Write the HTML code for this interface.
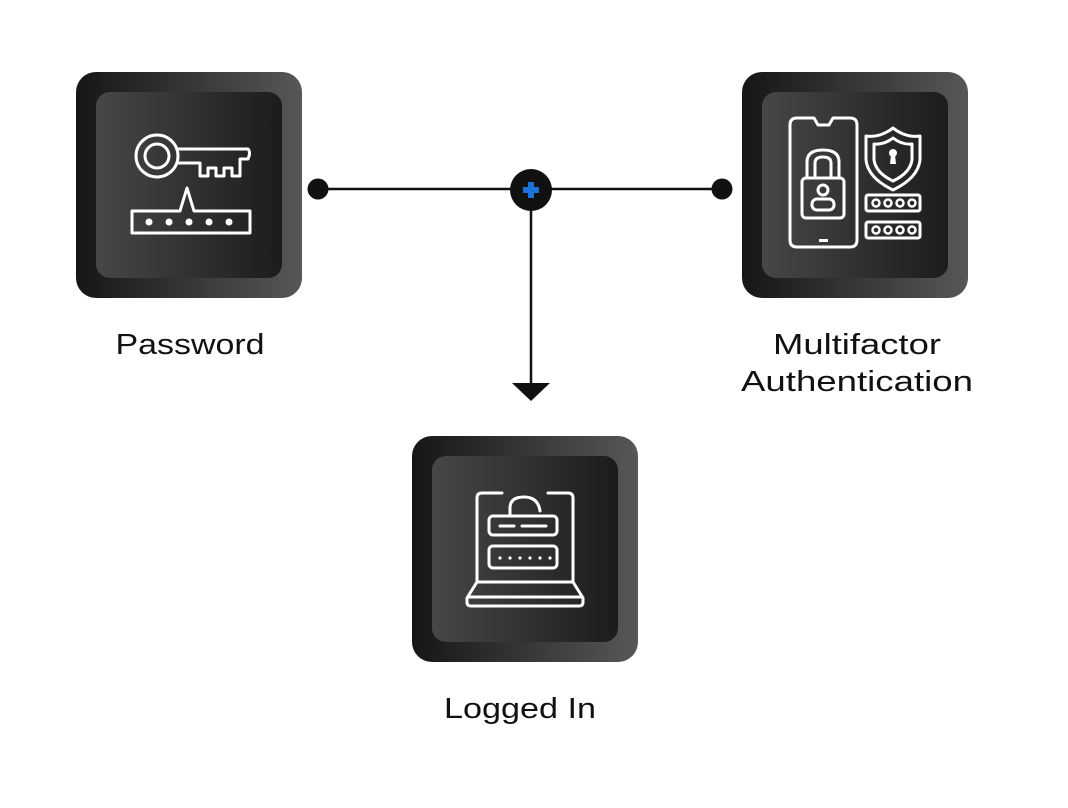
<!DOCTYPE html>
<html><head><style>html,body{margin:0;padding:0;background:#fff;}svg{display:block}</style></head>
<body>
<svg width="1068" height="808" viewBox="0 0 1068 808" xmlns="http://www.w3.org/2000/svg">
<defs>
<linearGradient id="o" x1="0" y1="0" x2="1" y2="0"><stop offset="0" stop-color="#161616"/><stop offset="1" stop-color="#575757"/></linearGradient>
<linearGradient id="i" x1="0" y1="0" x2="1" y2="0"><stop offset="0" stop-color="#474747"/><stop offset="1" stop-color="#1c1c1c"/></linearGradient>
</defs>
<g fill="none" stroke="#111" stroke-width="2.5">
<line x1="318" y1="189" x2="722" y2="189"/>
<line x1="531" y1="189" x2="531" y2="386"/>
</g>
<polygon points="512,383 550,383 531,401" fill="#111"/>
<circle cx="318" cy="189" r="10.5" fill="#111"/>
<circle cx="722" cy="189" r="10.5" fill="#111"/>
<circle cx="531" cy="190" r="21" fill="#111"/>
<rect x="528" y="182" width="6" height="16" fill="#1a73d9"/>
<rect x="523" y="187" width="16" height="6" fill="#1a73d9"/>

<!-- boxes -->
<g>
<rect x="76" y="72" width="226" height="226" rx="20" fill="url(#o)"/>
<rect x="96" y="92" width="186" height="186" rx="14" fill="url(#i)"/>
<rect x="742" y="72" width="226" height="226" rx="20" fill="url(#o)"/>
<rect x="762" y="92" width="186" height="186" rx="14" fill="url(#i)"/>
<rect x="412" y="436" width="226" height="226" rx="20" fill="url(#o)"/>
<rect x="432" y="456" width="186" height="186" rx="14" fill="url(#i)"/>
</g>

<!-- key icon -->
<g fill="none" stroke="#fff" stroke-width="3" stroke-linejoin="round">
<circle cx="157" cy="156" r="21"/>
<circle cx="157" cy="156" r="12"/>
<path d="M176,149 L248,149 Q251,152 248,159 L240,159 L240,176 L232,176 L232,168 L224,168 L224,176 L216,176 L216,168 L208,168 L208,176 L200,176 L200,163 L176,163"/>
<path d="M132,211 L180,211 L187,188 L194,211 L250,211 L250,233 L132,233 Z"/>
</g>
<g fill="#fff"><circle cx="149" cy="222" r="3.5"/><circle cx="169" cy="222" r="3.5"/><circle cx="189" cy="222" r="3.5"/><circle cx="209" cy="222" r="3.5"/><circle cx="229" cy="222" r="3.5"/></g>

<!-- MFA icon -->
<g fill="none" stroke="#fff" stroke-width="3" stroke-linejoin="round">
<path d="M797,118 L814,118 L818,125 L829,125 L833,118 L850,118 Q857,118 857,125 L857,240 Q857,247 850,247 L797,247 Q790,247 790,240 L790,125 Q790,118 797,118 Z"/>
<path d="M807,178 L807,162 Q807,150 823,150 Q839,150 839,162 L839,178"/>
<path d="M815,178 L815,163 Q815,157 823,157 Q831,157 831,163 L831,178"/>
<rect x="802" y="178" width="42" height="40" rx="4"/>
<circle cx="823" cy="190" r="5"/>
<rect x="812" y="199" width="22" height="11" rx="5"/>
<path d="M893,128 Q880,138 866,136 L866,160 Q868,178 893,190 Q918,178 920,160 L920,136 Q906,138 893,128 Z"/>
<path d="M893,138 Q884,145 874,144 L874,160 Q876,173 893,181 Q910,173 912,160 L912,144 Q902,145 893,138 Z"/>
<rect x="866" y="195" width="54" height="16" rx="2"/>
<rect x="866" y="222" width="54" height="16" rx="2"/>
</g>
<g fill="#fff">
<circle cx="893" cy="153" r="4"/><path d="M891,155 L895,155 L896,164 L890,164 Z"/>
<rect x="819" y="239" width="9" height="3"/>
</g>
<g fill="none" stroke="#fff" stroke-width="2.5">
<circle cx="876" cy="203" r="3.5"/><circle cx="888" cy="203" r="3.5"/><circle cx="900" cy="203" r="3.5"/><circle cx="912" cy="203" r="3.5"/>
<circle cx="876" cy="230" r="3.5"/><circle cx="888" cy="230" r="3.5"/><circle cx="900" cy="230" r="3.5"/><circle cx="912" cy="230" r="3.5"/>
</g>

<!-- logged in icon -->
<g fill="none" stroke="#fff" stroke-width="3" stroke-linejoin="round" stroke-linecap="round">
<path d="M502,493 L482,493 Q477,493 477,498 L477,582"/>
<path d="M548,493 L568,493 Q573,493 573,498 L573,582"/>
<path d="M510,516 L510,508 Q510,497 524,497 Q538,497 540,511"/>
<rect x="489" y="516" width="68" height="19" rx="4"/>
<rect x="489" y="546" width="68" height="22" rx="4"/>
<line x1="500" y1="526" x2="514" y2="526"/><line x1="522" y1="526" x2="546" y2="526"/>
<path d="M477,582 L573,582 L583,598 L583,602 Q583,606 579,606 L471,606 Q467,606 467,602 L467,598 Z"/>
<line x1="468" y1="597" x2="582" y2="597"/>
</g>
<g fill="#fff"><circle cx="500" cy="558" r="1.6"/><circle cx="510" cy="558" r="1.6"/><circle cx="520" cy="558" r="1.6"/><circle cx="530" cy="558" r="1.6"/><circle cx="540" cy="558" r="1.6"/><circle cx="550" cy="558" r="1.6"/></g>

<g font-family="Liberation Sans, sans-serif" font-size="29" fill="#111" text-anchor="middle">
<text x="190" y="354" textLength="149" lengthAdjust="spacingAndGlyphs">Password</text>
<text x="857" y="354" textLength="168" lengthAdjust="spacingAndGlyphs">Multifactor</text>
<text x="857" y="391" textLength="232" lengthAdjust="spacingAndGlyphs">Authentication</text>
<text x="520" y="718" textLength="152" lengthAdjust="spacingAndGlyphs">Logged In</text>
</g>
</svg>
</body></html>
